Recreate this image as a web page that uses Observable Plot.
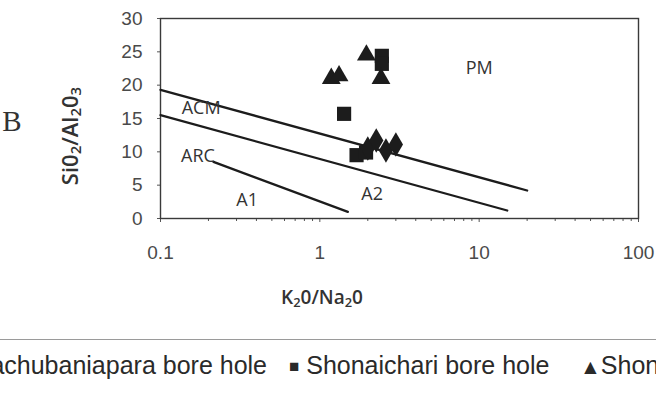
<!DOCTYPE html>
<html>
<head>
<meta charset="utf-8">
<script src="https://cdn.jsdelivr.net/npm/d3@7"></script>
<script src="https://cdn.jsdelivr.net/npm/@observablehq/plot@0.6"></script>
<style>
  html, body { margin: 0; padding: 0; background: #fff; overflow: hidden; }
  #wrap { position: relative; width: 656px; height: 393px; overflow: hidden; }
  #legend { position: absolute; left: 0; top: 339px; width: 656px; height: 54px; border-top: 1px solid #9a9a9a;
            font-family: "Liberation Sans", Arial, sans-serif; font-size: 25px; color: #2a2a2a; white-space: nowrap; }
  #legend > span { position: absolute; top: 11px; }
  .sym { font-size: 17px; vertical-align: 2px; }
  .tri { font-size: 21px; vertical-align: 0px; }
</style>
</head>
<body>
<div id="wrap">
  <div id="chart"></div>
  <div id="legend">
    <span id="leg1" style="right:389px">&#9670; Pachubaniapara bore hole</span>
    <span id="leg2" style="left:289px"><span class="sym">&#9632;</span> Shonaichari bore hole</span>
    <span id="leg3" style="left:580px"><span class="tri">&#9650;</span>Shonaichari</span>
  </div>
</div>
<script>
// ---- data ----
const diamondX = [2.0, 2.26, 2.6, 3.0];
const diamondY = [10.5, 11.7, 10.2, 11.1];
const squareX = [1.42, 2.45, 2.45, 1.7, 1.95];
const squareY = [15.7, 24.4, 23.2, 9.5, 9.9];
const triangleX = [1.18, 1.32, 1.96, 2.42];
const triangleY = [21.0, 21.4, 24.5, 21.0];

// discriminant boundary lines
const upperLineX = [0.1, 20];
const upperLineY = [19.3, 4.2];
const middleLineX = [0.1, 15];
const middleLineY = [15.5, 1.2];
const lowerLineX = [0.215, 1.5];
const lowerLineY = [8.5, 1.0];

// field labels
const fieldNames = ["ACM", "ARC", "A1", "A2", "PM"];
const fieldX = [0.18, 0.172, 0.35, 2.13, 10];
const fieldY = [16.5, 9.4, 2.8, 3.7, 22.6];

// ticks
const xMajorTicks = [0.1, 1, 10, 100];
const yTicks = [0, 5, 10, 15, 20, 25, 30];
const xMinorTicks = [];
for (const d of [0.1, 1, 10]) for (let k = 2; k <= 9; k++) xMinorTicks.push(+(d * k).toPrecision(2));

const pts = (xs, ys) => xs.map((x, i) => ({x, y: ys[i]}));

const ink = "#1c1c1c";
const plot = Plot.plot({
  width: 656,
  height: 320,
  marginLeft: 160,
  marginRight: 18,
  marginTop: 18,
  marginBottom: 102,
  style: {fontFamily: "Liberation Sans, Arial, sans-serif", background: "transparent"},
  x: {type: "log", domain: [0.1, 100]},
  y: {domain: [0, 30]},
  marks: [
    Plot.axisY({ticks: yTicks, tickSize: 3, tickPadding: 15, fontSize: 19, label: null, stroke: "#555", color: "#4a4a4a"}),
    Plot.axisX({ticks: xMajorTicks, tickSize: 0, tickPadding: 27, fontSize: 19, label: null, tickFormat: d => String(d), color: "#4a4a4a"}),
    Plot.axisX({ticks: xMinorTicks, tickSize: 3, tickFormat: () => "", label: null, stroke: "#555"}),
    Plot.axisX({ticks: xMajorTicks, tickSize: 4, tickFormat: () => "", label: null, stroke: "#555"}),
    Plot.frame({stroke: "#3a3a3a", strokeWidth: 1.4}),
    Plot.line(pts(upperLineX, upperLineY), {x: "x", y: "y", stroke: ink, strokeWidth: 2.3}),
    Plot.line(pts(middleLineX, middleLineY), {x: "x", y: "y", stroke: ink, strokeWidth: 2.3}),
    Plot.line(pts(lowerLineX, lowerLineY), {x: "x", y: "y", stroke: ink, strokeWidth: 2.3}),
    Plot.text(fieldNames, {x: (d, i) => fieldX[i], y: (d, i) => fieldY[i], text: d => d, fontSize: 18, fill: "#333", fontFamily: "Open Sans, sans-serif"}),
    Plot.dot(pts(squareX, squareY), {x: "x", y: "y", symbol: "square", r: 8, fill: ink}),
    Plot.dot(pts(triangleX, triangleY), {x: "x", y: "y", symbol: "triangle", r: 7, fill: ink}),
    Plot.dot(pts(diamondX, diamondY), {x: "x", y: "y", symbol: "diamond", r: 7.5, fill: ink})
  ]
});
document.getElementById("chart").appendChild(plot);

// axis titles with subscripts
const svg = d3.select(plot);
function titleWithSubs(parts, attrs) {
  const t = svg.append("text")
    .attr("font-family", "Open Sans, sans-serif")
    .attr("font-weight", 600)
    .attr("fill", "#333");
  for (const [k, v] of Object.entries(attrs)) t.attr(k, v);
  for (const [s, sub] of parts) {
    const ts = t.append("tspan").text(s);
    if (sub) ts.attr("font-size", "68%").attr("baseline-shift", "-22%");
  }
  return t;
}
titleWithSubs([["K", false], ["2", true], ["0/Na", false], ["2", true], ["0", false]],
  {x: 322, y: 304, "text-anchor": "middle", "font-size": 19});
titleWithSubs([["Si0", false], ["2", true], ["/Al", false], ["2", true], ["0", false], ["3", true]],
  {transform: "translate(78,136) rotate(-90)", "text-anchor": "middle", "font-size": 22});
svg.append("text").text("B")
  .attr("x", 12).attr("y", 131)
  .attr("font-family", "Liberation Serif, serif")
  .attr("font-size", 29).attr("fill", "#333");
</script>
</body>
</html>
